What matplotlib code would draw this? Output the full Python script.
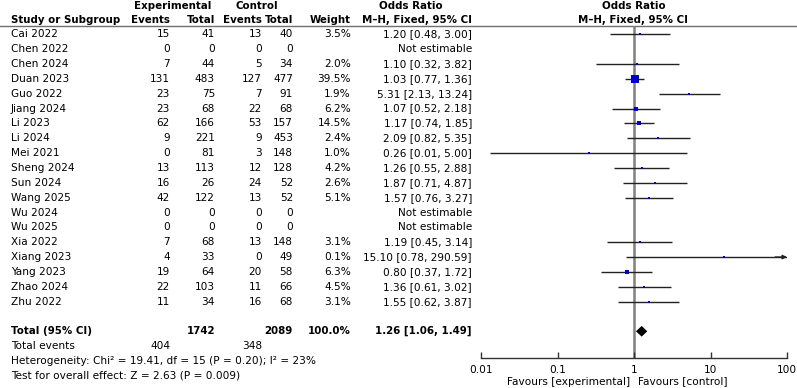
import matplotlib
matplotlib.use("Agg")
import matplotlib.pyplot as plt
import numpy as np

plt.rcParams['font.family'] = ['DejaVu Sans']

studies = ["Cai 2022", "Chen 2022", "Chen 2024", "Duan 2023", "Guo 2022", "Jiang 2024",
           "Li 2023", "Li 2024", "Mei 2021", "Sheng 2024", "Sun 2024", "Wang 2025",
           "Wu 2024", "Wu 2025", "Xia 2022", "Xiang 2023", "Yang 2023", "Zhao 2024", "Zhu 2022"]
exp_events = [15, 0, 7, 131, 23, 23, 62, 9, 0, 13, 16, 42, 0, 0, 7, 4, 19, 22, 11]
exp_total = [41, 0, 44, 483, 75, 68, 166, 221, 81, 113, 26, 122, 0, 0, 68, 33, 64, 103, 34]
ctl_events = [13, 0, 5, 127, 7, 22, 53, 9, 3, 12, 24, 13, 0, 0, 13, 0, 20, 11, 16]
ctl_total = [40, 0, 34, 477, 91, 68, 157, 453, 148, 128, 52, 52, 0, 0, 148, 49, 58, 66, 68]
weights = [3.5, None, 2.0, 39.5, 1.9, 6.2, 14.5, 2.4, 1.0, 4.2, 2.6, 5.1, None, None, 3.1, 0.1, 6.3, 4.5, 3.1]
odds = [1.20, None, 1.10, 1.03, 5.31, 1.07, 1.17, 2.09, 0.26, 1.26, 1.87, 1.57, None, None, 1.19, 15.10, 0.80, 1.36, 1.55]
ci_low = [0.48, None, 0.32, 0.77, 2.13, 0.52, 0.74, 0.82, 0.013, 0.55, 0.71, 0.76, None, None, 0.45, 0.78, 0.37, 0.61, 0.62]
ci_high = [3.00, None, 3.82, 1.36, 13.24, 2.18, 1.85, 5.35, 5.00, 2.88, 4.87, 3.27, None, None, 3.14, 290.59, 1.72, 3.02, 3.87]

total_exp, total_ctl = 1742, 2089
events_exp, events_ctl = 404, 348
total_or, total_lo, total_hi = 1.26, 1.06, 1.49
heterogeneity = "Heterogeneity: Chi² = 19.41, df = 15 (P = 0.20); I² = 23%"
overall = "Test for overall effect: Z = 2.63 (P = 0.009)"
xticks = [0.01, 0.1, 1, 10, 100]
xticklabels = ["0.01", "0.1", "1", "10", "100"]

W, H = 797, 388
FS = 7.6
FSB = 7.35
fig = plt.figure(figsize=(W / 100, H / 100), dpi=100)

# row mapping: row i at pixel y0 + i*dy
y0, dy = 34.3, 14.85
def row(px):
    return (px - y0) / dy

tab = fig.add_axes([0, 0, 1, 1])
tab.set_xlim(0, W)
tab.set_ylim(row(H), row(0))
tab.axis('off')

x_name = 11
x_ee, x_et, x_ce, x_ct, x_w, x_or = 170, 215, 262, 293, 351, 472

# headers
hb = dict(fontsize=FSB, fontweight='bold', va='center')
r1, r2 = row(5.8), row(20)
tab.text(173, r1, "Experimental", ha='center', **hb)
tab.text(257, r1, "Control", ha='center', **hb)
tab.text(411, r1, "Odds Ratio", ha='center', **hb)
tab.text(633.5, r1, "Odds Ratio", ha='center', **hb)
tab.text(x_name, r2, "Study or Subgroup", ha='left', **hb)
tab.text(x_ee, r2, "Events", ha='right', **hb)
tab.text(x_et, r2, "Total", ha='right', **hb)
tab.text(x_ce, r2, "Events", ha='right', **hb)
tab.text(x_ct, r2, "Total", ha='right', **hb)
tab.text(x_w, r2, "Weight", ha='right', **hb)
tab.text(x_or, r2, "M–H, Fixed, 95% CI", ha='right', **hb)
tab.text(633.5, r2, "M–H, Fixed, 95% CI", ha='center', **hb)
tab.axhline(row(26), color='#707070', lw=1.0)

nt = dict(fontsize=FS, va='center')
for i, s in enumerate(studies):
    tab.text(x_name, i, s, ha='left', **nt)
    tab.text(x_ee, i, str(exp_events[i]), ha='right', **nt)
    tab.text(x_et, i, str(exp_total[i]), ha='right', **nt)
    tab.text(x_ce, i, str(ctl_events[i]), ha='right', **nt)
    tab.text(x_ct, i, str(ctl_total[i]), ha='right', **nt)
    if weights[i] is not None:
        tab.text(x_w, i, f"{weights[i]:.1f}%", ha='right', **nt)
        tab.text(x_or, i, f"{odds[i]:.2f} [{ci_low[i]:.2f}, {ci_high[i]:.2f}]", ha='right', **nt)
    else:
        tab.text(x_or, i, "Not estimable", ha='right', **nt)

tr = len(studies) + 1
tab.text(x_name, tr, "Total (95% CI)", ha='left', **hb)
tab.text(x_et, tr, str(total_exp), ha='right', **hb)
tab.text(x_ct, tr, str(total_ctl), ha='right', **hb)
tab.text(x_w, tr, "100.0%", ha='right', **hb)
tab.text(x_or, tr, f"{total_or:.2f} [{total_lo:.2f}, {total_hi:.2f}]", ha='right', **hb)
tab.text(x_name, tr + 1, "Total events", ha='left', **nt)
tab.text(x_ee, tr + 1, str(events_exp), ha='right', **nt)
tab.text(x_ce, tr + 1, str(events_ctl), ha='right', **nt)
tab.text(x_name, tr + 2, heterogeneity, ha='left', **nt)
tab.text(x_name, tr + 3, overall, ha='left', **nt)

tab.text(630, row(381.5), "Favours [experimental]", ha='right', **nt)
tab.text(638, row(381.5), "Favours [control]", ha='left', **nt)

# forest axes
ax_l, ax_r = 481, 787
top_px, bot_px = 26, 357.7
ax = fig.add_axes([ax_l / W, 1 - bot_px / H, (ax_r - ax_l) / W, (bot_px - top_px) / H])
ax.set_xscale('log')
ax.set_xlim(0.01, 100)
ax.set_ylim(row(bot_px), row(top_px))
ax.patch.set_alpha(0)
for sp in ['top', 'left', 'right']:
    ax.spines[sp].set_visible(False)
ax.spines['bottom'].set_color('#333333')
ax.spines['bottom'].set_linewidth(1.0)
ax.set_yticks([])
ax.set_xticks(xticks)
ax.set_xticklabels(xticklabels, fontsize=FS)
ax.minorticks_off()
ax.tick_params(axis='x', direction='in', length=4, width=1, color='#333333', pad=5)
ax.axvline(1, color='#808080', lw=1.8, zorder=1)

for i in range(len(studies)):
    if weights[i] is None:
        continue
    hi = min(ci_high[i], 100)
    lo = max(ci_low[i], 0.01)
    ax.plot([lo, hi], [i, i], color='#222222', lw=1.0, zorder=2, solid_capstyle='butt')
    if ci_high[i] > 100:
        ax.annotate('', xy=(100, i), xytext=(70, i),
                    arrowprops=dict(arrowstyle='-|>', color='#222222', lw=1.0,
                                    mutation_scale=6, shrinkA=0, shrinkB=0))
    ms = max(0.875 * np.sqrt(weights[i]), 1.5)
    ax.plot([odds[i]], [i], marker='s', color='#0000cc', markersize=ms,
            markeredgewidth=0, zorder=3, linestyle='none')

hh = 0.36
ax.fill([total_lo, total_or, total_hi, total_or], [tr, tr - hh, tr, tr + hh],
        color='black', zorder=4, lw=0)

fig.savefig("out.png", dpi=100)
